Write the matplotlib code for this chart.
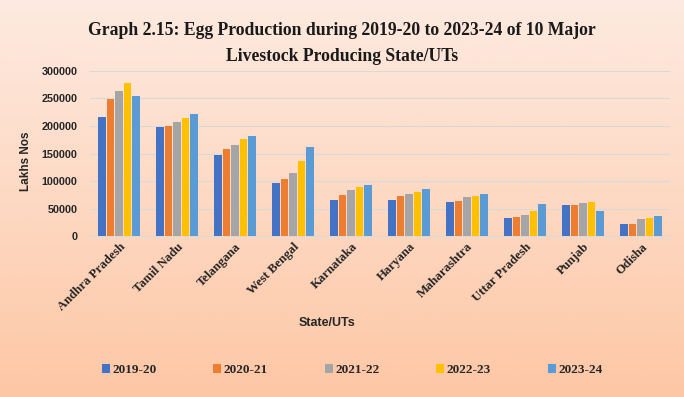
import numpy as np
import matplotlib
matplotlib.use('Agg')
import matplotlib.pyplot as plt
from matplotlib.colors import LinearSegmentedColormap

# data (Lakhs Nos)
states = ['Andhra Pradesh', 'Tamil Nadu', 'Telangana', 'West Bengal', 'Karnataka',
          'Haryana', 'Maharashtra', 'Uttar Pradesh', 'Punjab', 'Odisha']
years = ['2019-20', '2020-21', '2021-22', '2022-23', '2023-24']
y2019 = [217000, 198800, 146700, 97000, 66000, 66000, 61800, 32700, 55800, 22400]
y2020 = [248500, 200600, 157600, 103600, 74500, 72700, 63600, 34500, 55800, 22400]
y2021 = [263000, 207300, 165500, 113900, 83000, 76400, 70300, 38800, 59400, 30900]
y2022 = [277600, 215000, 175800, 136400, 89100, 80000, 72100, 45500, 61800, 32700]
y2023 = [255000, 221800, 182400, 161200, 93300, 84800, 76400, 57600, 45500, 37000]
series = [y2019, y2020, y2021, y2022, y2023]
colors = ['#4472C4', '#ED7D31', '#A5A5A5', '#FFC000', '#5B9BD5']

fig = plt.figure(figsize=(6.84, 3.97), dpi=100)

# peach gradient background
bg = fig.add_axes([0, 0, 1, 1], zorder=-10)
cmap = LinearSegmentedColormap.from_list('peach', ['#FDEAE0', '#FDD9C3', '#FDC7A5'])
bg.imshow(np.linspace(0, 1, 256).reshape(-1, 1), aspect='auto', cmap=cmap,
          extent=[0, 1, 0, 1])
bg.axis('off')

ax = fig.add_axes([0.1316, 0.4055, 0.848, 0.4157])
ax.patch.set_alpha(0)

x = np.arange(len(states))
w = 0.13
step = 0.146
for i, vals in enumerate(series):
    ax.bar(x + (i - 2) * step, vals, width=w, color=colors[i], label=years[i], zorder=3)

ax.set_xlim(-0.5, len(states) - 0.5)
ax.set_ylim(0, 300000)
ax.set_yticks(range(0, 300001, 50000))
ax.yaxis.grid(True, color='#D9D9D9', linewidth=0.8, zorder=0)
for s in ['top', 'right', 'left']:
    ax.spines[s].set_visible(False)
ax.spines['bottom'].set_color('#D9D9D9')
ax.tick_params(axis='both', length=0)
ax.tick_params(axis='y', pad=9)

ax.set_xticks(x)
ax.set_xticklabels(states, rotation=45, ha='right', rotation_mode='anchor',
                   family='Liberation Serif', fontweight='bold', fontsize=9.2,
                   color='#262626')
for lab in ax.get_yticklabels():
    lab.set_family('Liberation Sans')
    lab.set_fontweight('bold')
    lab.set_fontsize(7.8)
    lab.set_color('#262626')

fig.text(0.038, 0.594, 'Lakhs Nos', rotation=90, ha='center', va='center',
         family='Liberation Sans', fontweight='bold', fontsize=8.5, color='#262626')
fig.text(0.478, 0.186, 'State/UTs', ha='center', va='center',
         family='Liberation Sans', fontweight='bold', fontsize=9, color='#262626')

fig.text(0.5, 0.924, 'Graph 2.15: Egg Production during 2019-20 to 2023-24 of 10 Major',
         ha='center', va='center', family='Liberation Serif', fontweight='bold',
         fontsize=12.7, color='#1a1a1a')
fig.text(0.5, 0.857, 'Livestock Producing State/UTs',
         ha='center', va='center', family='Liberation Serif', fontweight='bold',
         fontsize=12.7, color='#1a1a1a')

leg = fig.legend(loc='center', bbox_to_anchor=(0.515, 0.068), ncol=5, frameon=False,
                 handlelength=0.6, handleheight=0.6, handletextpad=0.2, columnspacing=4.3,
                 prop={'family': 'Liberation Serif', 'weight': 'bold', 'size': 9.5})
for t in leg.get_texts():
    t.set_color('#262626')

fig.savefig('out.png', dpi=100)
